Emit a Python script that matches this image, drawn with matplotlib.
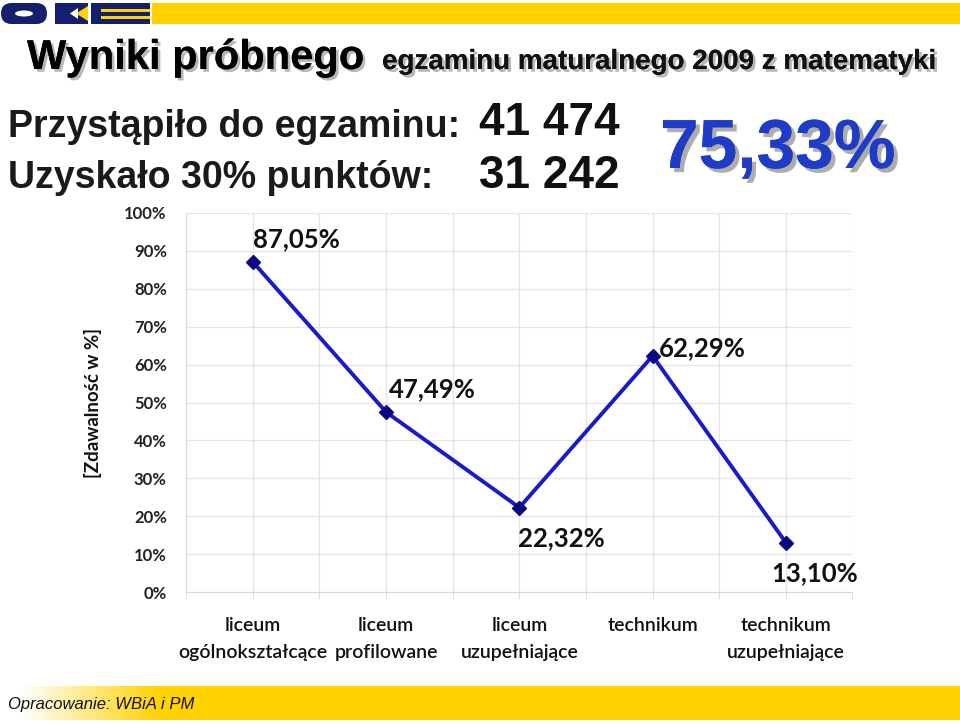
import numpy as np
import matplotlib.pyplot as plt
import matplotlib.patheffects as pe
from matplotlib.colors import LinearSegmentedColormap
from matplotlib.patches import FancyBboxPatch, Ellipse, Polygon, Rectangle

# data
categories = ["liceum\nogólnokształcące", "liceum\nprofilowane", "liceum\nuzupełniające",
              "technikum", "technikum\nuzupełniające"]
pass_rate = [87.05, 47.49, 22.32, 62.29, 13.10]
label_text = ["87,05%", "47,49%", "22,32%", "62,29%", "13,10%"]
y_ticks = [0, 10, 20, 30, 40, 50, 60, 70, 80, 90, 100]

total_students = "41 474"
passed_students = "31 242"
overall_rate = "75,33%"

arial = ["Liberation Sans", "DejaVu Sans"]
calibri = ["Lato", "DejaVu Sans"]
navy = '#14206E'
yellow = '#FFD200'

fig = plt.figure(figsize=(9.6, 7.24), dpi=100, facecolor='white')

# background decoration layer in pixel coords
bg = fig.add_axes([0, 0, 1, 1], zorder=0)
bg.axis('off')

# logo
bg.add_patch(FancyBboxPatch((1, 3), 46, 21, boxstyle="round,pad=0,rounding_size=10.5",
                            color=navy, lw=0))
bg.add_patch(Ellipse((24, 13.5), 18, 6, color='white', lw=0))
bg.add_patch(Rectangle((55, 3), 33, 21, color=navy, lw=0))
bg.add_patch(Polygon([(76, 13.5), (88, 6), (88, 21)], closed=True, color=yellow, lw=0))
bg.add_patch(Polygon([(70, 13.5), (78, 8), (78, 19)], closed=True, color='white', lw=0))
bg.add_patch(Rectangle((91, 3), 59, 21, color=navy, lw=0))
bg.add_patch(Rectangle((101, 8.5), 49, 3.5, color=yellow, lw=0))
bg.add_patch(Rectangle((101, 15.5), 49, 3.5, color=yellow, lw=0))
# top yellow bar
bg.add_patch(Rectangle((152, 3), 808, 21, color=yellow, lw=0))

# bottom bar with white -> yellow gradient
cmap = LinearSegmentedColormap.from_list('y', ['#FFFFFF', yellow])
xs = np.linspace(0, 960, 480)
vals = np.clip((xs - 20) / 140, 0, 1).reshape(1, -1)
bg.imshow(vals, cmap=cmap, extent=[0, 960, 720, 686], aspect='auto', zorder=0, vmin=0, vmax=1)
bg.set_xlim(0, 960)
bg.set_ylim(724, 0)
bg.text(8, 704, "Opracowanie: WBiA i PM", fontsize=12, style='italic',
        family=arial, va='center', ha='left', color='#111111')

shadow = [pe.withSimplePatchShadow(offset=(2, -2), shadow_rgbFace='#888888', alpha=0.6), pe.Normal()]

bg.text(27, 58, "Wyniki próbnego", fontsize=30, fontweight='bold', family=arial,
        va='center', ha='left', color='black', path_effects=shadow)
bg.text(382, 62, "egzaminu maturalnego 2009 z matematyki", fontsize=20, fontweight='bold',
        family=arial, va='center', ha='left', color='#111111', path_effects=shadow)

bg.text(8, 127, "Przystąpiło do egzaminu:", fontsize=27, fontweight='bold', family=arial,
        va='center', ha='left', color='#1A1A1A')
bg.text(8, 178, "Uzyskało 30% punktów:", fontsize=27, fontweight='bold', family=arial,
        va='center', ha='left', color='#1A1A1A')
bg.text(620, 123, total_students, fontsize=33, fontweight='bold', family=arial,
        va='center', ha='right', color='#111111')
bg.text(620, 176, passed_students, fontsize=33, fontweight='bold', family=arial,
        va='center', ha='right', color='#111111')
bg.text(660, 150, overall_rate, fontsize=50, fontweight='bold', family=arial,
        va='center', ha='left', color='#1E3CC8',
        path_effects=[pe.withSimplePatchShadow(offset=(3, -3), shadow_rgbFace='#8A8A8A', alpha=0.7), pe.Normal()])

# main chart
ax = fig.add_axes([0.194, 0.182, 0.694, 0.524], zorder=1)
ax.patch.set_alpha(0)
x = np.arange(len(categories))
ax.plot(x, pass_rate, color='#1A1AC8', lw=2.8, marker='D', markersize=7,
        markerfacecolor='#0A0A80', markeredgecolor='#0A0A80', zorder=3)

# label placement (data units relative to each point)
label_dx = [0.0, 0.02, -0.01, 0.05, -0.11]
label_dy = [6.0, 6.0, -8.0, 2.0, -8.0]
for xi, yi, lab, dx, dy in zip(x, pass_rate, label_text, label_dx, label_dy):
    ax.text(xi + dx, yi + dy, lab, fontsize=18.5, fontweight='bold', family=calibri,
            ha='left', va='center', color='#111111')

ax.set_xlim(-0.5, len(categories) - 0.5)
ax.set_ylim(0, 100)
ax.set_yticks(y_ticks)
ax.set_yticklabels([f"{v}%" for v in y_ticks], fontsize=12, fontweight='bold',
                   family=calibri, color='#222222')
ax.set_xticks(x)
ax.set_xticklabels(categories, fontsize=14, family=calibri, color='#111111',
                   fontweight='semibold', linespacing=1.7)
ax.set_xticks(np.arange(-0.5, len(categories), 1.0), minor=True)
ax.tick_params(axis='x', which='both', length=5, color='#D9D9D9', pad=13)
ax.tick_params(axis='y', length=0, pad=14)
ax.grid(True, which='both', color='#E4E4E4', lw=0.9)
ax.set_axisbelow(True)
for s in ['top', 'right']:
    ax.spines[s].set_visible(False)
for s in ['left', 'bottom']:
    ax.spines[s].set_color('#D9D9D9')

ax.set_ylabel("[Zdawalność w %]", fontsize=13.5, fontweight='bold', family=calibri,
              color='#111111', labelpad=16)

fig.savefig("out.png", dpi=100)
